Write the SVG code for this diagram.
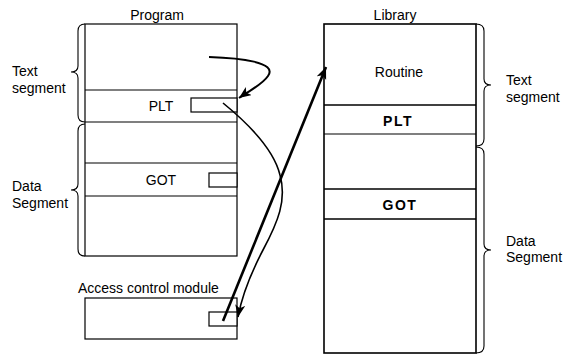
<svg xmlns="http://www.w3.org/2000/svg" width="563" height="356" viewBox="0 0 563 356">
  <style>
    .box { fill: #fff; stroke: #000; stroke-width: 1.2; }
    .lib { fill: #fff; stroke: #000; stroke-width: 1.6; }
    .sep { stroke: #000; stroke-width: 1.2; fill: none; }
    .brace { fill: none; stroke: #000; stroke-width: 1.1; }
    .lbl { font-family: "Liberation Sans", Arial, sans-serif; font-size: 14px; fill: #000; }
    .mid { text-anchor: middle; }
    .bold { font-weight: bold; letter-spacing: 1.5px; }
    .link { fill: none; stroke: #000; }
  </style>
  <defs>
    <marker id="head" markerUnits="userSpaceOnUse" markerWidth="14" markerHeight="12" refX="12" refY="5" orient="auto">
      <path d="M0,0 L12,5 L0,10 L3,5 z" fill="#000"/>
    </marker>
  </defs>

  <!-- Program image -->
  <g id="program">
    <text class="lbl mid" x="157" y="20">Program</text>
    <rect class="box" x="85" y="24" width="152" height="232"/>
    <line class="sep" x1="85" y1="90" x2="237" y2="90"/>
    <line class="sep" x1="85" y1="122" x2="237" y2="122"/>
    <line class="sep" x1="85" y1="163" x2="237" y2="163"/>
    <line class="sep" x1="85" y1="196" x2="237" y2="196"/>
    <text class="lbl mid" x="161" y="111">PLT</text>
    <rect class="box" x="191" y="98" width="46" height="14"/>
    <text class="lbl mid" x="161" y="185">GOT</text>
    <rect class="box" x="209" y="173" width="28" height="14"/>
  </g>

  <g id="program-text-segment">
    <path class="brace" d="M85,24 Q78,24 78,31 L78,66 Q78,72 71,72 Q78,72 78,78 L78,115 Q78,122 85,122"/>
    <text class="lbl" x="12" y="76">Text</text>
    <text class="lbl" x="12" y="93">segment</text>
  </g>

  <g id="program-data-segment">
    <path class="brace" d="M85,124 Q78,124 78,131 L78,184 Q78,190 71,190 Q78,190 78,196 L78,249 Q78,256 85,256"/>
    <text class="lbl" x="12" y="191">Data</text>
    <text class="lbl" x="12" y="208">Segment</text>
  </g>

  <!-- Access control module -->
  <g id="access-control">
    <text class="lbl" x="78" y="293">Access control module</text>
    <rect class="box" x="85" y="298" width="152" height="41"/>
    <rect class="box" x="209" y="312" width="28" height="14"/>
  </g>

  <!-- Library image -->
  <g id="library">
    <text class="lbl mid" x="395" y="20">Library</text>
    <rect class="lib" x="324" y="24" width="152" height="329"/>
    <line class="sep" x1="324" y1="105" x2="476" y2="105" style="stroke-width:1.6"/>
    <line class="sep" x1="324" y1="134" x2="476" y2="134"/>
    <line class="sep" x1="324" y1="189" x2="476" y2="189" style="stroke-width:1.6"/>
    <line class="sep" x1="324" y1="219" x2="476" y2="219" style="stroke-width:1.6"/>
    <text class="lbl mid" x="399" y="77">Routine</text>
    <text class="lbl mid bold" x="398" y="126">PLT</text>
    <text class="lbl mid bold" x="400" y="210">GOT</text>
  </g>

  <g id="library-text-segment">
    <path class="brace" d="M476,24 Q484,24 484,31 L484,79 Q484,85 491,85 Q484,85 484,91 L484,139 Q484,146 476,146"/>
    <text class="lbl" x="506" y="85">Text</text>
    <text class="lbl" x="506" y="102">segment</text>
  </g>

  <g id="library-data-segment">
    <path class="brace" d="M476,147 Q484,147 484,154 L484,244 Q484,250 491,250 Q484,250 484,256 L484,346 Q484,353 476,353"/>
    <text class="lbl" x="506" y="246">Data</text>
    <text class="lbl" x="506" y="262">Segment</text>
  </g>

  <!-- Connectors -->
  <g id="connectors">
    <path class="link" style="stroke-width:2" marker-end="url(#head)" d="M209,57 C240,58 278,62 268,76 C262,85 250,90 239,98"/>
    <path class="link" style="stroke-width:1.6" marker-end="url(#head)" d="M223,103 C250,125 274,150 280,175 C287,200 278,222 263,250 C251,273 242,295 238,317"/>
    <path class="link" style="stroke-width:2.6" marker-end="url(#head)" d="M223,321 L326,67"/>
  </g>
</svg>
